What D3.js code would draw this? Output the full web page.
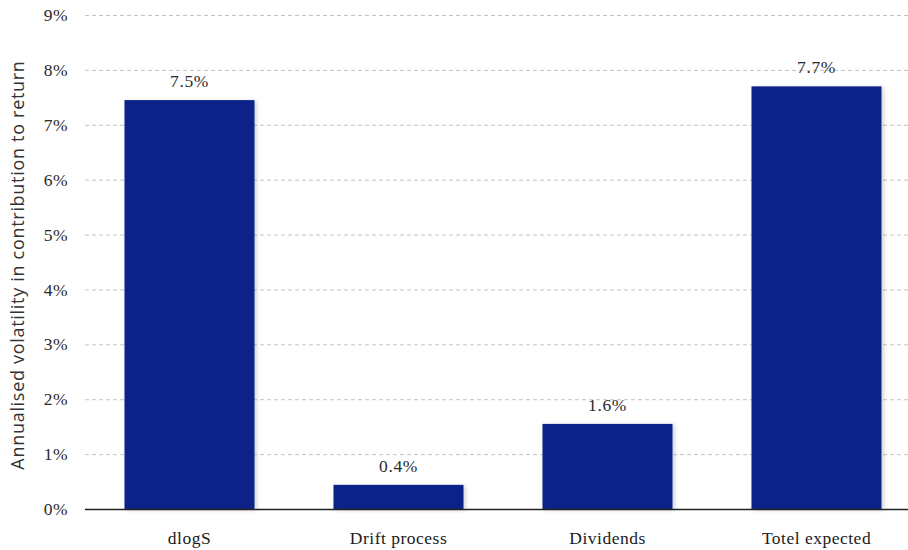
<!DOCTYPE html>
<html><head><meta charset="utf-8">
<script src="https://cdn.jsdelivr.net/npm/d3@7"></script>
<style>body{margin:0;background:#fff}</style>
</head><body>
<svg id="c" width="908" height="550"></svg>
<script>
const categories = ["dlogS", "Drift process", "Dividends", "Totel expected"];
const values = [7.45, 0.44, 1.55, 7.70];
const labels = ["7.5%", "0.4%", "1.6%", "7.7%"];
const yTicks = [0,1,2,3,4,5,6,7,8,9];
const yTitle = "Annualised volatility in contribution to return";

const svg = d3.select("#c");
const mLeft = 85, mRight = 921, mTop = 15, mBottom = 509;
const x = d3.scaleBand().domain(categories).range([mLeft, mRight]).paddingInner(0.378).paddingOuter(0.189);
const y = d3.scaleLinear().domain([0, 9]).range([mBottom, mTop]);
const serif = "'Liberation Serif', 'DejaVu Serif', serif";

const defs = svg.append("defs");
const f = defs.append("filter").attr("id","sh").attr("x","-10%").attr("y","-10%").attr("width","125%").attr("height","125%");
f.append("feDropShadow").attr("dx",2).attr("dy",1).attr("stdDeviation",2).attr("flood-color","#000").attr("flood-opacity",0.18);

// grid
svg.append("g").selectAll("line").data(yTicks.filter(d=>d>0)).join("line")
  .attr("x1", mLeft).attr("x2", 908).attr("y1", d=>y(d)+0.5).attr("y2", d=>y(d)+0.5)
  .attr("stroke", "#c4c4c4").attr("stroke-dasharray", "4,3").attr("stroke-width", 1);

// y axis labels
const yAxis = d3.axisLeft(y).tickValues(yTicks).tickFormat(d=>d+"%").tickSize(0).tickPadding(17);
const ga = svg.append("g").attr("transform", `translate(${mLeft},0)`).call(yAxis);
ga.select(".domain").remove();
ga.selectAll("text").attr("font-family",serif).attr("font-size",17.5).attr("fill","#2a2a2a").attr("letter-spacing",0.4);

// bars
svg.append("g").selectAll("rect").data(values).join("rect")
  .attr("x", (d,i)=>x(categories[i])).attr("width", x.bandwidth())
  .attr("y", d=>y(d)).attr("height", d=>y(0)-y(d))
  .attr("fill", "#0b2289").attr("filter","url(#sh)");

// value labels
svg.append("g").selectAll("text").data(values).join("text")
  .attr("x", (d,i)=>x(categories[i]) + x.bandwidth()/2)
  .attr("y", d=>y(d) - 13)
  .attr("text-anchor","middle")
  .attr("font-family",serif).attr("font-size",17.5).attr("fill","#2a2a2a").attr("letter-spacing",0.6)
  .text((d,i)=>labels[i]);

// x axis line
svg.append("line").attr("x1", mLeft).attr("x2", 908).attr("y1", mBottom+0.5).attr("y2", mBottom+0.5).attr("stroke","#222").attr("stroke-width",1.5);

// x axis labels
const xAxis = d3.axisBottom(x).tickSize(0).tickPadding(23);
const gx = svg.append("g").attr("transform", `translate(0,${mBottom})`).call(xAxis);
gx.select(".domain").remove();
gx.selectAll("text").attr("font-family",serif).attr("font-size",17.5).attr("fill","#1a1a1a").attr("letter-spacing",0.5);

// y title
svg.append("text").attr("transform","translate(24,265) rotate(-90)").attr("text-anchor","middle")
  .attr("font-family","'Open Sans', 'DejaVu Sans', sans-serif").attr("font-size",18).attr("fill","#333")
  .attr("letter-spacing",0.7)
  .text(yTitle);
</script>
</body></html>
